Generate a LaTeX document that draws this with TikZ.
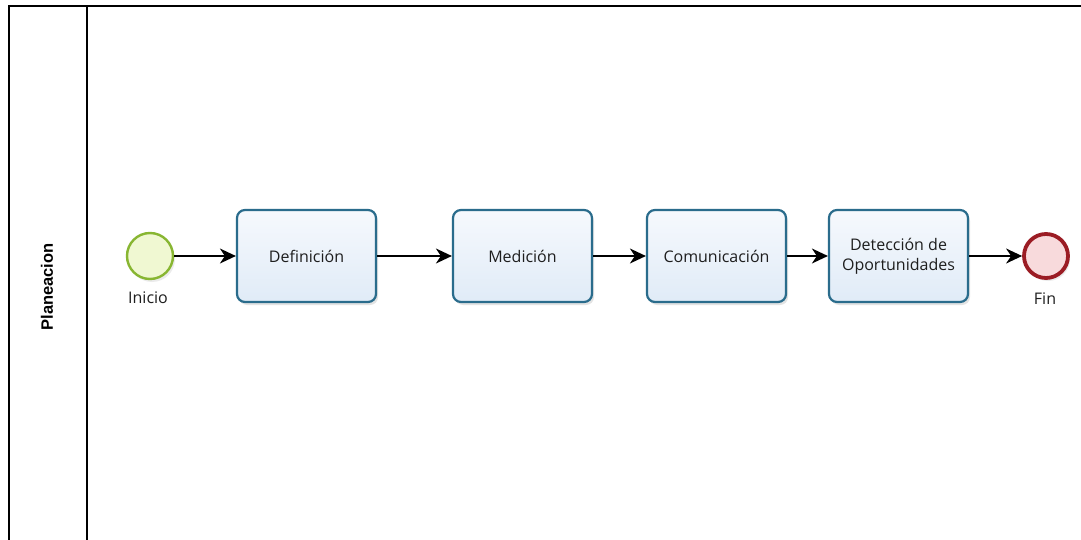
\documentclass[tikz,border=0pt]{standalone}
\usepackage{fontspec}
\setmainfont{Open Sans}
\newfontfamily\lanefont{Liberation Sans}
\usetikzlibrary{arrows.meta,shadows}
\definecolor{taskborder}{RGB}{42,108,140}
\definecolor{tasktop}{RGB}{246,249,253}
\definecolor{taskbottom}{RGB}{224,235,247}
\definecolor{startborder}{RGB}{136,182,50}
\definecolor{startfill}{RGB}{240,248,210}
\definecolor{endborder}{RGB}{155,28,36}
\definecolor{endfill}{RGB}{248,218,220}
\definecolor{textgray}{RGB}{30,30,30}
\tikzset{
  task/.style={draw=taskborder, line width=2.2pt, rounded corners=8pt,
    top color=tasktop, bottom color=taskbottom,
    minimum width=139pt, minimum height=92pt, align=center,
    font=\fontsize{16}{20}\selectfont, text=textgray,
    drop shadow={shadow xshift=2pt, shadow yshift=-3pt, fill=black!18, opacity=0.6}},
  startevent/.style={circle, draw=startborder, line width=2.4pt, fill=startfill,
    minimum size=46pt, inner sep=0pt,
    drop shadow={shadow xshift=2pt, shadow yshift=-3pt, fill=black!15, opacity=0.5}},
  endevent/.style={circle, draw=endborder, line width=3.8pt, fill=endfill,
    minimum size=44pt, inner sep=0pt,
    drop shadow={shadow xshift=2pt, shadow yshift=-3pt, fill=black!15, opacity=0.5}},
  evlabel/.style={font=\fontsize{16}{19}\selectfont, text=textgray},
  flow/.style={line width=1.5pt, -{Stealth[length=16pt, width=15pt, inset=5pt]}},
  poolline/.style={line width=2pt, black}
}
\begin{document}
\begin{tikzpicture}[x=1pt, y=-1pt]
\useasboundingbox (0,0) rectangle (1081,540);
\fill[white] (0,0) rectangle (1081,540);
% pool frame and lane header
\draw[poolline] (9,540) -- (9,6) -- (1081,6);
\draw[poolline] (87,6) -- (87,540);
\node[rotate=90, font=\lanefont\bfseries\fontsize{16.5}{19}\selectfont] (lane) at (47,287) {Planeacion};
% events and tasks
\node[startevent] (inicio) at (150,256) {};
\node[evlabel] (inicioLbl) at (148,298) {Inicio};
\node[task] (def) at (306.5,256) {Definición};
\node[task] (med) at (522.5,256) {Medición};
\node[task] (com) at (716.5,256) {Comunicación};
\node[task] (det) at (898.5,256) {Detección de\\Oportunidades};
\node[endevent] (fin) at (1046,256) {};
\node[evlabel] (finLbl) at (1045,299) {Fin};
% sequence flows
\draw[flow] (inicio) -- (def);
\draw[flow] (def) -- (med);
\draw[flow] (med) -- (com);
\draw[flow] (com) -- (det);
\draw[flow] (det) -- (fin);
\end{tikzpicture}
\end{document}
